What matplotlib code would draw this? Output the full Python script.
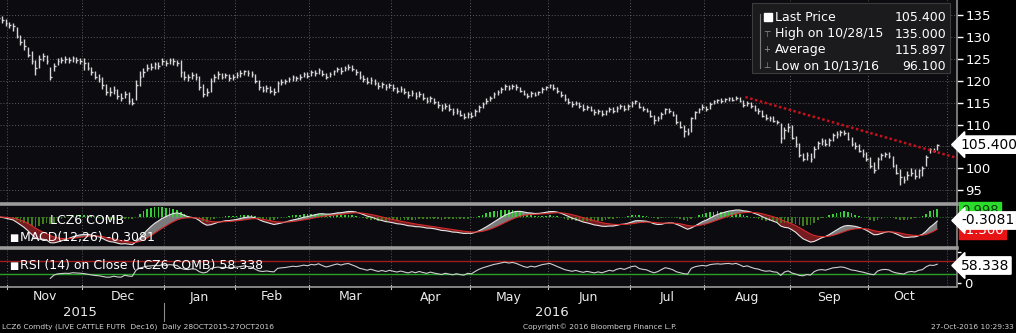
import numpy as np
import pandas as pd
import matplotlib
matplotlib.use('Agg')
import matplotlib.pyplot as plt
from matplotlib.lines import Line2D
from matplotlib.patches import Rectangle
import matplotlib.transforms as mtransforms

plt.rcParams['font.family'] = ['DejaVu Sans']

# ---------------- data ----------------
start_date = '2015-10-28'
end_date = '2016-10-27'
holidays = ['2015-11-26', '2015-12-25', '2016-01-01', '2016-01-18', '2016-02-15',
            '2016-03-25', '2016-05-30', '2016-07-04', '2016-09-05']

close = [
    134.5, 134.0, 133.3, 132.8, 132.5, 130.2, 129.0, 128.0, 126.0, 124.5,
    123.0, 125.0, 125.8, 124.5, 121.0, 123.5, 124.5, 124.8, 125.0, 124.7,
    125.2, 124.9, 124.5, 124.0, 123.0, 122.0, 121.0, 120.5, 119.0, 117.5,
    117.5, 118.0, 116.5, 116.0, 117.0, 115.5, 115.0, 119.0, 121.0, 122.0,
    123.0, 123.3, 123.8, 123.5, 124.5, 124.0, 124.8, 124.5, 124.2, 122.0,
    121.0, 120.8, 121.3, 121.0, 118.5, 117.0, 117.5, 120.0, 121.0, 121.5,
    121.0, 121.3, 120.6, 121.0, 121.3, 121.8, 122.2, 121.8, 121.5, 120.0,
    118.5, 118.0, 118.3, 117.8, 117.5, 119.5, 119.8, 120.0, 120.4, 120.8,
    120.6, 121.0, 121.5, 121.2, 122.0, 121.8, 122.5, 121.7, 121.0, 121.5,
    122.2, 122.8, 122.3, 123.0, 123.3, 122.7, 122.0, 121.0, 120.5, 119.8,
    120.3, 119.5, 118.8, 119.2, 118.5, 119.0, 118.4, 117.8, 118.2, 117.5,
    116.8, 117.3, 116.5, 117.0, 116.2, 115.5, 116.0, 115.2, 114.5, 113.8,
    114.3, 113.5, 112.8, 113.2, 112.3, 111.8, 112.5, 112.0, 113.0, 114.0,
    114.8, 115.5, 116.2, 117.0, 117.5, 118.2, 118.8, 118.4, 118.9, 118.5,
    117.8, 117.0, 116.5, 117.2, 116.8, 117.5, 118.2, 118.6, 119.0, 118.4,
    117.6, 116.8, 115.8, 115.2, 114.6, 115.0, 114.2, 113.6, 114.0, 113.4,
    112.8, 113.2, 112.5, 113.0, 113.5, 113.0, 113.8, 114.2, 113.6, 114.3,
    115.0, 115.3, 114.0, 113.5, 113.2, 112.0, 111.0, 111.5, 112.5, 113.5,
    113.0, 112.2, 110.5, 109.5, 108.5, 108.0, 111.5, 112.8, 113.5, 114.0,
    113.6, 114.8, 115.3, 115.6, 115.4, 115.8, 116.0, 115.7, 116.2, 115.5,
    114.5, 115.0, 114.2, 113.4, 113.0, 112.0, 111.4, 111.6, 110.8, 110.5,
    107.0, 108.8, 109.5, 107.0, 105.5, 103.0, 102.2, 103.0, 102.0, 104.5,
    105.8, 106.2, 105.5, 106.5, 107.5, 107.8, 108.3, 108.0, 106.8, 105.5,
    105.0, 104.0, 103.2, 102.0, 100.5, 99.5, 102.0, 103.0, 103.3, 102.8,
    100.5, 99.0, 98.0, 97.2, 98.5, 99.0, 98.3, 99.5, 100.0, 102.5,
    104.3, 104.0, 105.4,
]

high = [
    135.0, 134.8, 134.2, 133.6, 133.2, 132.3, 130.5, 129.5, 127.8, 126.8,
    124.8, 126.0, 126.4, 125.9, 123.2, 124.2, 125.3, 125.5, 125.6, 125.5,
    125.8, 125.5, 125.3, 125.2, 124.3, 123.2, 122.3, 121.5, 120.9, 119.2,
    118.6, 118.9, 118.2, 117.2, 117.8, 117.4, 116.2, 120.2, 122.2, 123.0,
    123.8, 124.0, 124.3, 124.4, 125.2, 124.9, 125.3, 125.2, 124.9, 124.8,
    122.2, 121.7, 122.0, 121.9, 121.2, 119.3, 118.4, 120.6, 121.7, 122.2,
    121.9, 121.9, 121.5, 121.6, 122.0, 122.4, 122.6, 122.5, 122.2, 121.6,
    120.2, 118.9, 119.0, 118.8, 118.3, 119.9, 120.4, 120.5, 120.9, 121.3,
    121.2, 121.6, 122.1, 122.0, 122.6, 122.5, 123.0, 122.6, 121.9, 122.0,
    122.6, 123.3, 123.1, 123.5, 123.9, 123.6, 122.8, 122.2, 121.3, 120.8,
    120.9, 120.5, 119.7, 119.8, 119.4, 119.6, 119.3, 118.7, 118.8, 118.4,
    117.7, 117.9, 117.4, 117.6, 117.2, 116.4, 116.6, 116.2, 115.4, 114.6,
    114.9, 114.6, 113.8, 113.8, 113.4, 112.7, 112.9, 112.9, 113.5, 114.5,
    115.2, 116.0, 116.6, 117.4, 118.0, 118.6, 119.2, 119.1, 119.3, 119.2,
    118.7, 118.0, 117.3, 117.6, 117.5, 117.8, 118.5, 118.9, 119.4, 119.2,
    118.6, 117.8, 117.0, 116.0, 115.5, 115.5, 115.2, 114.6, 114.5, 114.2,
    113.6, 113.6, 113.4, 113.4, 114.0, 114.0, 114.2, 114.6, 114.5, 114.6,
    115.4, 115.6, 115.2, 114.2, 113.9, 113.4, 112.2, 112.0, 112.8, 113.8,
    113.8, 113.2, 112.4, 110.8, 109.8, 109.2, 111.8, 113.2, 113.9, 114.6,
    114.3, 115.1, 115.6, 115.9, 116.0, 116.1, 116.4, 116.3, 116.5, 116.3,
    115.6, 115.3, 115.1, 114.4, 113.8, 113.3, 112.5, 112.0, 111.9, 111.1,
    110.3, 109.5, 110.3, 109.8, 107.4, 105.8, 103.5, 103.7, 103.4, 105.1,
    106.3, 107.0, 106.8, 107.0, 108.0, 108.5, 108.7, 108.8, 108.3, 107.2,
    105.9, 105.6, 104.4, 103.8, 102.6, 101.4, 102.6, 103.5, 103.8, 103.6,
    102.9, 101.0, 99.9, 98.3, 99.4, 100.0, 99.7, 99.9, 100.4, 103.0,
    104.7, 104.6, 105.5,
]

low = [
    133.8, 133.2, 132.6, 132.2, 131.5, 129.8, 128.3, 127.2, 125.5, 123.8,
    121.4, 123.0, 124.6, 123.8, 120.2, 122.2, 123.6, 124.0, 124.2, 124.0,
    124.3, 124.2, 123.8, 122.5, 122.4, 121.3, 120.4, 119.8, 118.2, 116.8,
    116.5, 117.0, 115.9, 115.3, 116.0, 114.8, 114.5, 115.6, 118.8, 120.8,
    122.3, 122.6, 122.8, 122.8, 123.6, 123.5, 123.8, 123.7, 123.5, 120.9,
    120.3, 120.0, 120.5, 120.3, 118.0, 116.3, 116.6, 117.4, 119.8, 120.5,
    120.4, 120.6, 119.9, 120.2, 120.6, 121.0, 121.4, 121.2, 120.8, 119.6,
    118.0, 117.4, 117.5, 117.2, 116.8, 117.4, 119.0, 119.3, 119.7, 120.0,
    119.9, 120.3, 120.8, 120.6, 121.2, 121.1, 121.6, 121.2, 120.4, 120.8,
    121.4, 122.0, 121.7, 122.2, 122.6, 122.2, 121.4, 120.5, 119.8, 119.2,
    119.4, 119.1, 118.2, 118.4, 117.9, 118.3, 117.8, 117.2, 117.5, 116.9,
    116.2, 116.5, 115.9, 116.3, 115.6, 114.9, 115.2, 114.6, 113.9, 113.0,
    113.5, 113.2, 112.3, 112.4, 111.9, 111.3, 111.6, 111.5, 112.0, 112.9,
    113.8, 114.6, 115.4, 116.1, 116.8, 117.3, 118.0, 117.9, 118.1, 118.0,
    117.5, 116.7, 116.0, 116.3, 116.5, 116.7, 117.3, 117.9, 118.3, 118.0,
    117.2, 116.4, 115.5, 114.8, 114.1, 114.4, 113.9, 113.2, 113.3, 113.0,
    112.3, 112.4, 111.9, 112.3, 112.8, 112.6, 112.9, 113.5, 113.2, 113.4,
    114.1, 114.6, 113.8, 113.1, 112.8, 111.8, 110.2, 110.8, 111.3, 112.4,
    112.6, 111.9, 110.2, 109.2, 107.2, 107.6, 108.2, 111.2, 112.6, 113.4,
    113.2, 113.5, 114.7, 115.0, 114.9, 115.1, 115.3, 115.3, 115.6, 115.2,
    114.1, 114.2, 113.9, 113.1, 112.5, 111.8, 111.0, 110.9, 110.5, 110.1,
    105.8, 106.6, 108.4, 106.6, 104.8, 102.6, 101.6, 101.8, 101.4, 102.3,
    104.3, 105.4, 105.1, 105.0, 106.3, 106.9, 107.3, 107.5, 106.5, 105.1,
    104.4, 103.7, 102.6, 101.6, 100.1, 99.0, 99.8, 101.8, 102.5, 102.4,
    100.2, 98.7, 96.1, 96.6, 97.2, 98.2, 97.6, 97.8, 98.2, 100.4,
    103.4, 103.6, 104.2,
]

# red trend line drawn by the analyst (trading-day index, price)
trend_idx = [200.5, 257.5]
trend_price = [116.3, 102.3]

legend_rows = [('Last Price', '105.400'), ('High on 10/28/15', '135.000'),
               ('Average', '115.897'), ('Low on 10/13/16', '96.100')]
price_ticks = [95, 100, 105, 110, 115, 120, 125, 130, 135]
price_tick_labels = ['95', '100', '', '110', '115', '120', '125', '130', '135']
last_price_label = '105.400'
macd_labels = ['0.998', '-0.3081', '-1.300']
rsi_label = '58.338'

# ---------------- derived ----------------
dates = pd.bdate_range(start_date, end_date)
dates = dates[~dates.isin(pd.to_datetime(holidays))]
n = len(close)
x = np.arange(n)
s = pd.Series(close, dtype=float)

ema12 = s.ewm(span=12, adjust=False).mean()
ema26 = s.ewm(span=26, adjust=False).mean()
macd = (ema12 - ema26).values
sig = pd.Series(macd).ewm(span=9, adjust=False).mean().values
hist = macd - sig

# Wilder RSI(14), seeded with simple average of the first 14 changes
d = s.diff().values
gain = np.clip(d, 0, None)
loss = np.clip(-d, 0, None)
rsi = np.full(n, np.nan)
ag = np.nanmean(gain[1:15])
al = np.nanmean(loss[1:15])
rsi[14] = 100 - 100 / (1 + ag / al)
for i in range(15, n):
    ag = (ag * 13 + gain[i]) / 14
    al = (al * 13 + loss[i]) / 14
    rsi[i] = 100 - 100 / (1 + ag / al)

per = pd.Series(dates[:n]).dt.to_period('M')
month_first = [i for i in range(n) if i == 0 or per[i] != per[i - 1]]
month_groups = pd.Series(x).groupby(per.values)
month_info = [((g.min() + g.max()) / 2, p.strftime('%b'), len(g)) for p, g in month_groups]
year_groups = pd.Series(x).groupby(pd.Series(dates[:n]).dt.year.values)
year_mid = [(g.min() + g.max()) / 2 for _, g in year_groups]
year_lbl = [str(y) for y, _ in year_groups]
year_start = [g.min() for _, g in year_groups][1:]

# ---------------- figure ----------------
W, H = 1016, 333
fig = plt.figure(figsize=(W / 100, H / 100), dpi=100, facecolor='#000000')


def fy(px):
    return 1 - px / H


AXR = 957 / W
bg = '#0b0b10'
ax = fig.add_axes([0, fy(202), AXR, 202 / H], facecolor=bg)
axm = fig.add_axes([0, fy(246), AXR, (246 - 204.5) / H], facecolor=bg)
axr = fig.add_axes([0, fy(286), AXR, (286 - 248.5) / H], facecolor=bg)

XL = (0.5, 257.3)
grid_kw = dict(color='#5c5c5c', lw=0.7, ls=(0, (1, 2)))
for a in (ax, axm, axr):
    a.set_xlim(*XL)
    for sp in a.spines.values():
        sp.set_visible(False)
    a.spines['right'].set_visible(True)
    a.spines['right'].set_color('#8c8c8c')
    a.spines['right'].set_linewidth(1.2)
    a.set_xticks([])
    for i in month_first[1:]:
        a.axvline(i - 0.5, zorder=0, **grid_kw)
    a.axvline(254.5, zorder=0, **grid_kw)

# main price panel
ax.set_ylim(92.25, 138.55)
ax.set_yticks(price_ticks)
ax.set_yticklabels(price_tick_labels)
for p in price_ticks:
    ax.axhline(p, zorder=0, **grid_kw)
ax.tick_params(axis='y', left=False, labelleft=False, right=True, labelright=True,
               colors='white', labelcolor='white', labelsize=9.5, length=4,
               width=1, pad=2)
ax.vlines(x, low, high, colors='#d6d6d6', lw=1.0, zorder=3)
ax.hlines(close, x, x + 0.45, colors='#d6d6d6', lw=1.0, zorder=3)
ax.plot(trend_idx, trend_price, color='#c8101c', lw=1.8, ls=(0, (1, 1)), zorder=4)

ax.text(1.004, close[-1], last_price_label, transform=mtransforms.blended_transform_factory(
    ax.transAxes, ax.transData), ha='left', va='center', fontsize=10, color='black',
    bbox=dict(boxstyle='larrow,pad=0.12', fc='white', ec='white'), clip_on=False, zorder=10)

# MACD panel
lo = min(macd.min(), sig.min(), hist.min()) * 1.05
hi = -lo * 12.5 / 29
axm.set_ylim(lo, hi)
axm.axhline(0, color='#2a8a2a', lw=0.7, ls=(0, (1, 2)), zorder=1)
axm.fill_between(x, macd, sig, where=macd >= sig, interpolate=True,
                 color='#8f8f8f', alpha=0.85, lw=0, zorder=2)
axm.fill_between(x, macd, sig, where=macd < sig, interpolate=True,
                 color='#8a1e24', alpha=0.85, lw=0, zorder=2)
hcol = np.where(hist >= 0, '#35d035', '#3f7a1c')
axm.bar(x, hist, width=0.45, color=hcol, zorder=3)
axm.plot(x, macd, color='#e6e6e6', lw=0.8, zorder=4)
axm.plot(x, sig, color='#d42a2a', lw=0.8, zorder=4)
axm.set_yticks([])

# RSI panel
axr.set_ylim(-9.7, 109.7)
axr.axhline(70, color='#a01c1c', lw=1.0, zorder=1)
axr.axhline(30, color='#27a227', lw=1.0, zorder=1)
axr.plot(x, rsi, color='#cfcfcf', lw=0.8, zorder=3)
axr.set_yticks([0, 100])
axr.set_yticklabels(['0', ''])
axr.tick_params(axis='y', left=False, labelleft=False, right=True, labelright=True,
                colors='white', labelcolor='white', labelsize=9.5, length=3,
                width=1, pad=2)

# separators
for ypx, lw in ((203.5, 2.6), (247.5, 2.6), (286.5, 1.2)):
    fig.add_artist(Line2D([0, AXR], [fy(ypx), fy(ypx)], transform=fig.transFigure,
                          color='#9c9c9c', lw=lw, zorder=5))

# panel texts
txt_kw = dict(color='white', fontsize=9, va='center')
fig.text(50 / W, fy(220), 'LCZ6 COMB', **txt_kw)
fig.text(9 / W, fy(237.5), '\u25A0', color='white', fontsize=7, va='center')
fig.text(20 / W, fy(237.5), 'MACD(12,26) -0.3081', **txt_kw)
fig.text(9 / W, fy(266), '\u25A0', color='white', fontsize=7, va='center')
fig.text(20 / W, fy(266), 'RSI (14) on Close (LCZ6 COMB) 58.338', **txt_kw)

# MACD right labels
bx = 961 / W
fig.text(bx, fy(210), macd_labels[0], fontsize=9.5, color='#0a3a0a', va='center',
         bbox=dict(boxstyle='square,pad=0.15', fc='#2add2a', ec='#2add2a'), zorder=6)
fig.text(bx, fy(231), macd_labels[2], fontsize=9.5, color='white', va='center',
         bbox=dict(boxstyle='square,pad=0.15', fc='#e61414', ec='#e61414'), zorder=6)
fig.text(bx, fy(220.5), macd_labels[1], fontsize=10, color='black', va='center',
         bbox=dict(boxstyle='larrow,pad=0.12', fc='white', ec='white'), zorder=7)
fig.text(bx, fy(265.5), rsi_label, fontsize=10, color='black', va='center',
         bbox=dict(boxstyle='larrow,pad=0.12', fc='white', ec='white'), zorder=7)

# legend box
fig.add_artist(Rectangle((752 / W, fy(73)), 198 / W, 70 / H, transform=fig.transFigure,
                         fc='#1b1b1d', ec='#3c3c3c', lw=0.8, zorder=8))
fig.add_artist(Line2D([760 / W, 760 / W], [fy(14), fy(68)], transform=fig.transFigure,
                      color='#7a7a7a', lw=0.8, zorder=9))
row_y = [17.5, 34, 50, 66]
fig.add_artist(Line2D([768 / W], [fy(17)], transform=fig.transFigure, marker='s',
                      ms=5.5, color='white', lw=0, zorder=9))
glyphs = ['', '\u22A4', '+', '\u22A5']
for (lab, val), yy, gl in zip(legend_rows, row_y, glyphs):
    fig.text(775 / W, fy(yy), lab, color='white', fontsize=9, va='center', zorder=9)
    fig.text(946 / W, fy(yy), val, color='white', fontsize=9, va='center', ha='right',
             zorder=9)
    if gl:
        fig.text(763 / W, fy(yy), gl, color='#9a9a9a', fontsize=6, va='center', zorder=9)

# x-axis month and year labels
bt = mtransforms.blended_transform_factory(axr.transData, fig.transFigure)
for xm, ml, cnt in month_info:
    if cnt >= 5:
        fig.text(xm, fy(297), ml, transform=bt, ha='center', va='center',
                 color='#ececec', fontsize=9)
for xm, yl in zip(year_mid, year_lbl):
    fig.text(xm, fy(313), yl, transform=bt, ha='center', va='center', color='#ececec',
             fontsize=9.5)
for ys in year_start:
    fig.add_artist(Line2D([ys - 0.5, ys - 0.5], [fy(303), fy(321)], transform=bt,
                          color='#8c8c8c', lw=0.8))
for i in month_first:
    fig.add_artist(Line2D([i - 0.5, i - 0.5], [fy(285), fy(288.5)], transform=bt,
                          color='#bdbdbd', lw=0.8))

# footer
foot_kw = dict(color='#d0d0d0', fontsize=5.4, va='center')
fig.text(2 / W, fy(327), 'LCZ6 Comdty (LIVE CATTLE FUTR  Dec16)  Daily 28OCT2015-27OCT2016',
         **foot_kw)
fig.text(523 / W, fy(327), 'Copyright\u00A9 2016 Bloomberg Finance L.P.', **foot_kw)
fig.text(1014 / W, fy(327), '27-Oct-2016 10:29:33', ha='right', **foot_kw)

fig.savefig('out.png', dpi=100, facecolor=fig.get_facecolor())
